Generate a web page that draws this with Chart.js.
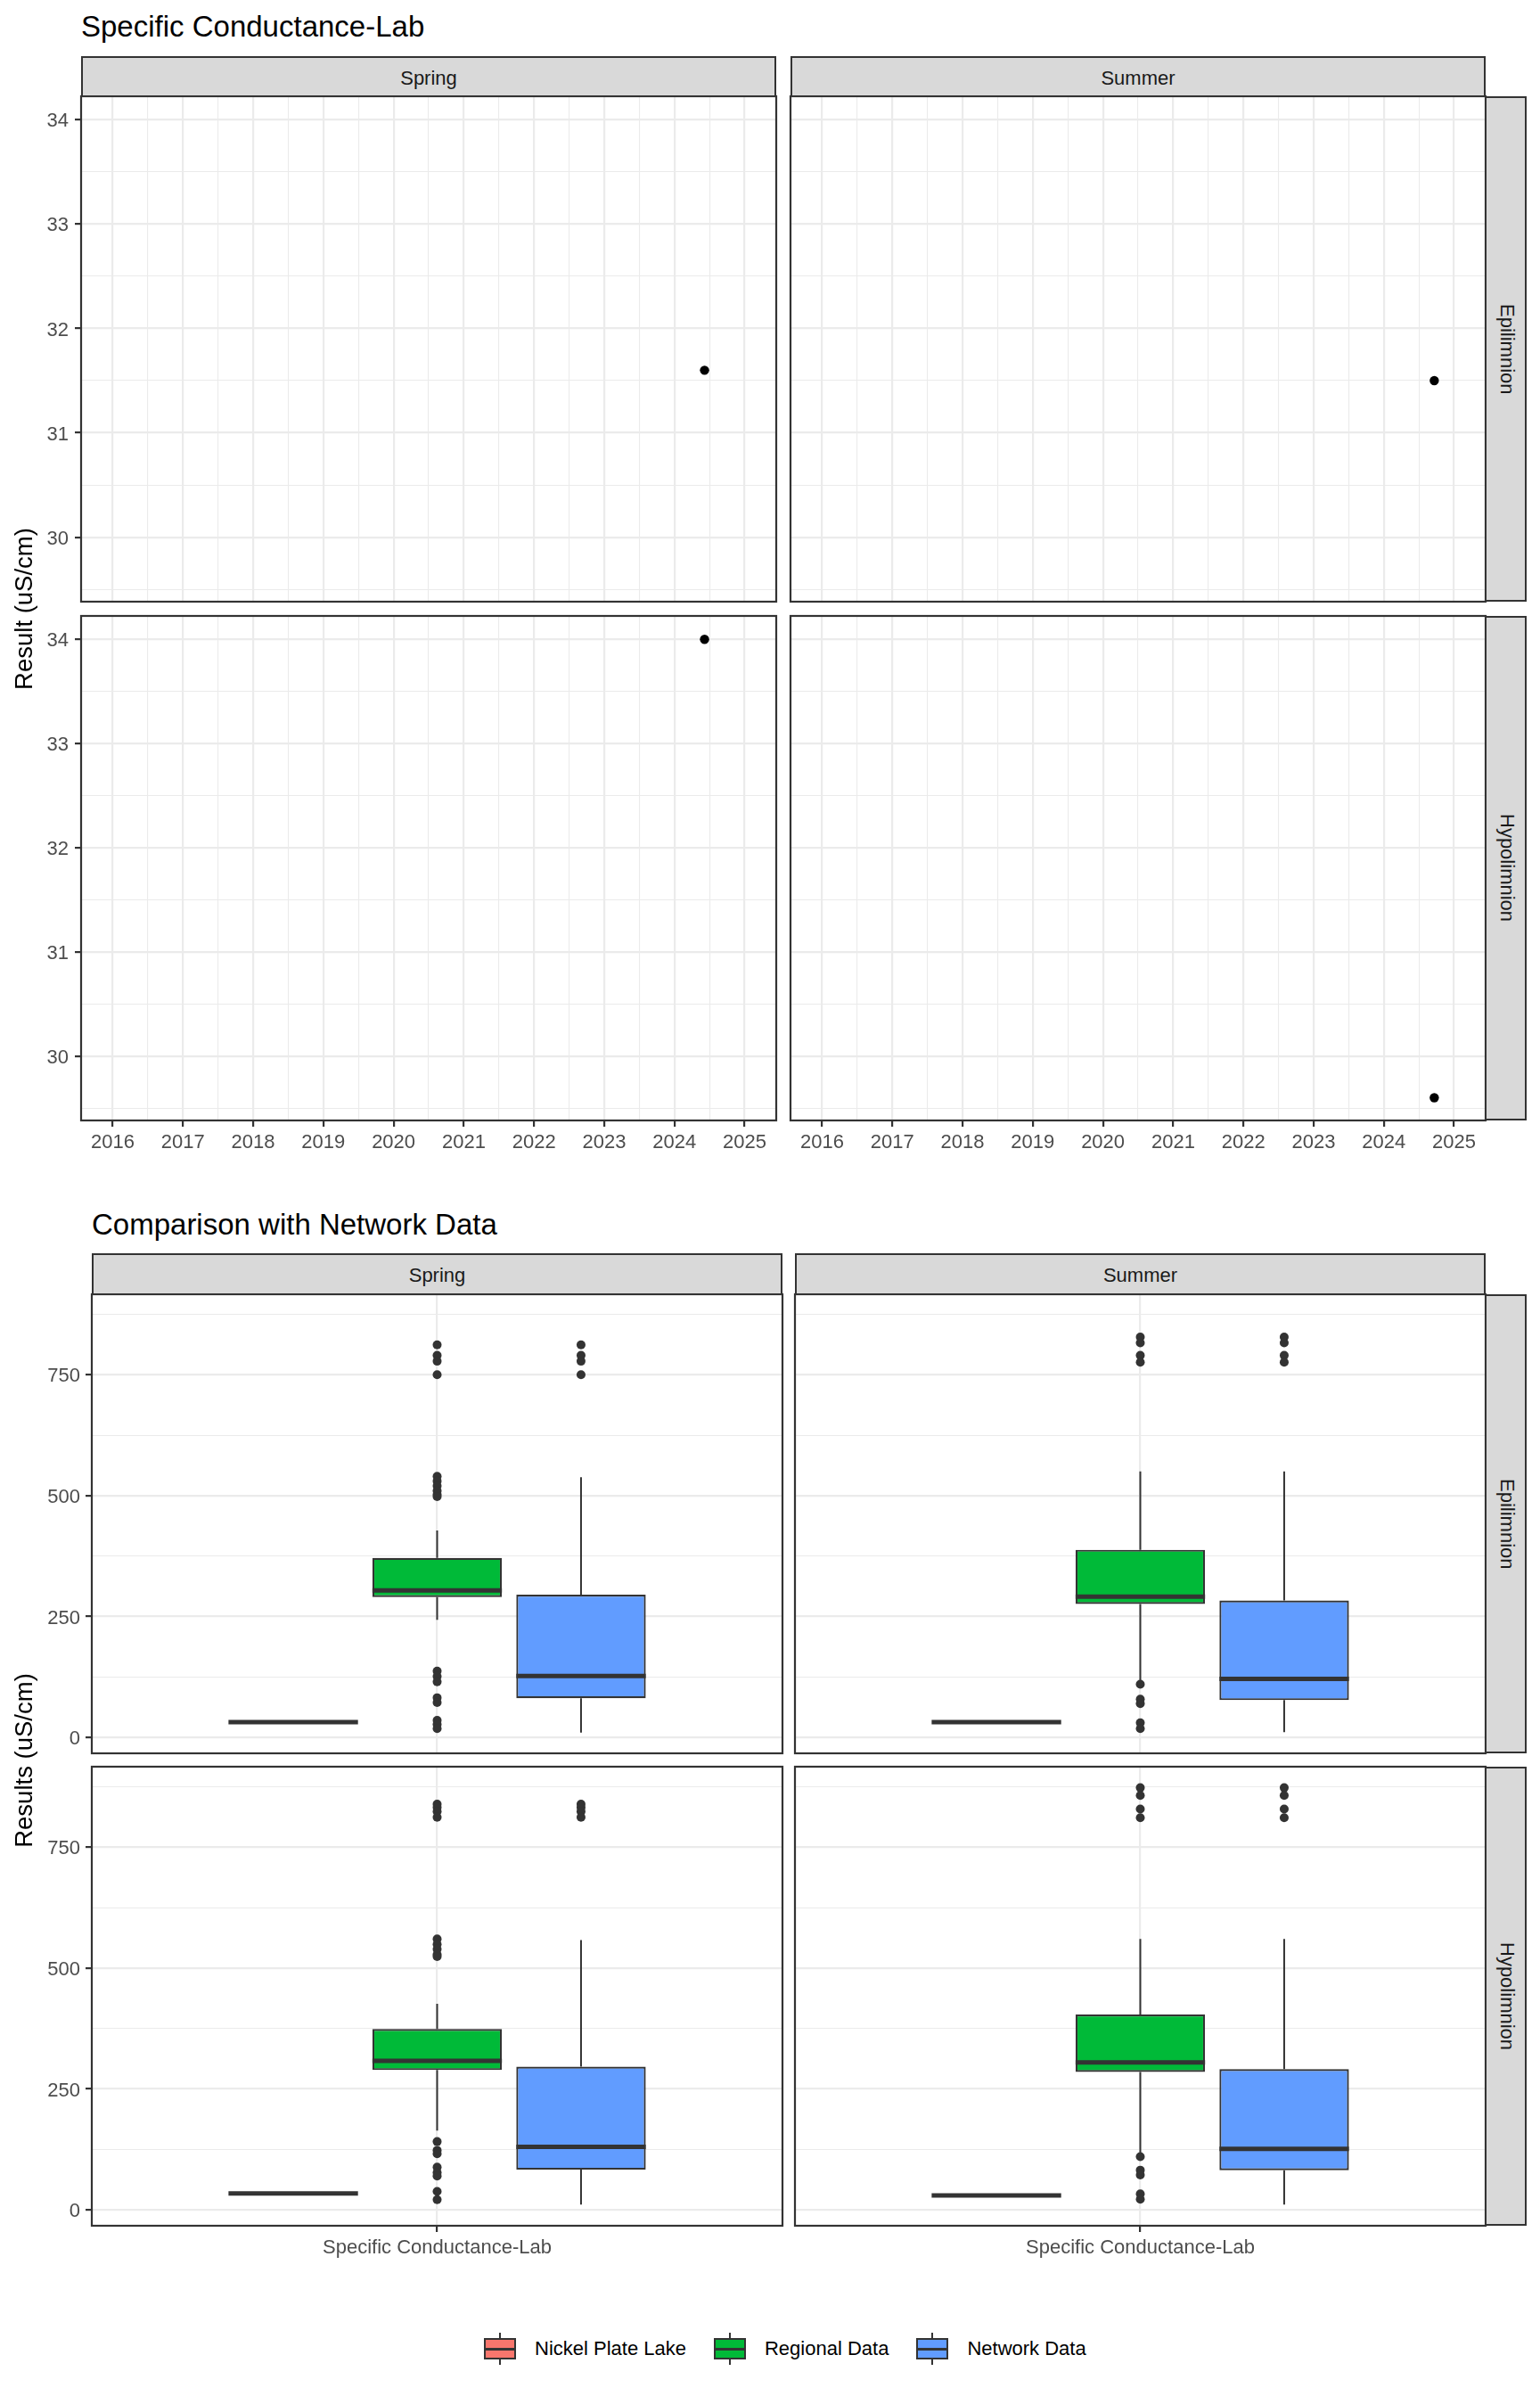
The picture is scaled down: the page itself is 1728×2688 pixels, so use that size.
<!DOCTYPE html>
<html>
<head>
<meta charset="utf-8">
<script src="https://cdn.jsdelivr.net/npm/chart.js@4.4.1/dist/chart.umd.min.js"></script>
<style>
  body { margin: 0; background: #fff; font-family: "Liberation Sans", Arial, sans-serif; }
  #page { position: relative; width: 1728px; height: 2688px; overflow: hidden; }
  #page canvas { position: absolute; }
  .title { position: absolute; font-size: 33px; line-height: 33px; color: #000; white-space: nowrap; }
  .strip { position: absolute; box-sizing: border-box; background: #D9D9D9; border: 2px solid #333333;
           color: #1A1A1A; font-size: 22px; display: flex; align-items: center; justify-content: center; }
  .strip.top { padding-top: 3px; }
  .strip.side { padding-left: 2px; }
  .strip.side span { writing-mode: vertical-rl; }
  .ytitle { position: absolute; width: 600px; height: 30px; line-height: 30px; font-size: 27.5px;
            text-align: center; color: #000; transform: rotate(-90deg); white-space: nowrap; }
  #legend { position: absolute; left: 543px; top: 2617px; height: 36px; display: flex; align-items: center; }
  .key { position: relative; width: 36px; height: 36px; margin-right: 21px; }
  .key .wh { position: absolute; left: 17px; top: 0; width: 2px; height: 36px; background: #333333; }
  .key .bx { position: absolute; left: 0; top: 6px; width: 36px; height: 24px; box-sizing: border-box; border: 2px solid #333333; }
  .key .md { position: absolute; left: 0; top: 16.5px; width: 36px; height: 3px; background: #333333; }
  .item { display: flex; align-items: center; margin-right: 31px; font-size: 22px; color: #000; }
</style>
</head>
<body>
<div id="page"></div>
<script>
// ---- data: lab results over time ----
const seasons = ["Spring", "Summer"];
const layers = ["Epilimnion", "Hypolimnion"];
// one sample per panel, rows = layers, cols = seasons
const sampleDates = [["2024-06-06", "2024-09-20"], ["2024-06-06", "2024-09-20"]];
const sampleValues = [[31.6, 31.5], [34.0, 29.6]];
const yearTicks = [2016, 2017, 2018, 2019, 2020, 2021, 2022, 2023, 2024, 2025];
const labTicks = [30, 31, 32, 33, 34];
const yearLimits = [2015.55, 2025.45];
const labLimits = [29.382, 34.225];

// ---- data: comparison with network ----
const categories = ["Specific Conductance-Lab"];
const groups = ["Nickel Plate Lake", "Regional Data", "Network Data"];
const groupColors = ["#F8766D", "#00BA38", "#619CFF"];
const resultTicks = [0, 250, 500, 750];
const resultLimits = [-33, 916.5];
// box stats per group: [lower whisker, q1, median, q3, upper whisker]
const springEpiStats = [[31.6, 31.6, 31.6, 31.6, 31.6], [243, 290, 304, 371, 428], [10, 81, 127, 295, 538]];
const summerEpiStats = [[31.5, 31.5, 31.5, 31.5, 31.5], [118, 276, 291, 388, 550], [11, 77, 121, 283, 550]];
const springHypoStats = [[34.0, 34.0, 34.0, 34.0, 34.0], [164, 289, 308, 374, 426], [11, 83, 130, 296, 558]];
const summerHypoStats = [[29.6, 29.6, 29.6, 29.6, 29.6], [118, 285, 305, 404, 560], [11, 82, 126, 291, 560]];
const springEpiOutliers = [[], [812, 790, 778, 750, 540, 530, 520, 510, 502, 498, 137, 126, 115, 82, 72, 35, 27, 18], [812, 790, 778, 750]];
const summerEpiOutliers = [[], [828, 816, 790, 776, 110, 79, 70, 30, 18], [828, 816, 790, 776]];
const springHypoOutliers = [[], [839, 832, 824, 812, 560, 549, 539, 528, 524, 141, 123, 116, 88, 77, 70, 38, 21], [839, 832, 824, 812]];
const summerHypoOutliers = [[], [873, 857, 829, 811, 110, 82, 72, 33, 22], [873, 857, 829, 811]];

const boxStats = [[springEpiStats, summerEpiStats], [springHypoStats, summerHypoStats]];
const boxOutliers = [[springEpiOutliers, summerEpiOutliers], [springHypoOutliers, summerHypoOutliers]];

// ---- layout ----
const FONT = '"Liberation Sans", Arial, sans-serif';
const TS_COLS = [{ left: 91, width: 780 }, { left: 887, width: 780 }];
const TS_ROWS = [{ top: 108, height: 567 }, { top: 691, height: 566 }];
const BX_COLS = [{ left: 103, width: 775 }, { left: 892, width: 775 }];
const BX_ROWS = [{ top: 1452, height: 515 }, { top: 1982, height: 515 }];
const PAD = 3, AXIS_W = 80, AXIS_H = 50;
const DODGE = [-0.25, 0, 0.25];

const page = document.getElementById("page");

function toYear(d) {
  const t = new Date(d + "T00:00:00Z");
  const y = t.getUTCFullYear();
  const start = Date.UTC(y, 0, 1), end = Date.UTC(y + 1, 0, 1);
  return y + (t - start) / (end - start);
}

function midpoints(arr) {
  const out = [];
  for (let i = 0; i < arr.length - 1; i++) out.push((arr[i] + arr[i + 1]) / 2);
  return out;
}

function el(cls, style, text) {
  const d = document.createElement("div");
  d.className = cls;
  Object.assign(d.style, style);
  if (text !== undefined) d.innerHTML = text;
  page.appendChild(d);
  return d;
}

function makeCanvas(col, row, cols, rows) {
  const c = document.createElement("canvas");
  const axW = col === 0 ? AXIS_W : 0;
  const axH = row === 1 ? AXIS_H : 0;
  const w = cols[col].width + 2 * PAD + axW;
  const h = rows[row].height + 2 * PAD + axH;
  c.width = w; c.height = h;
  c.style.left = (cols[col].left - PAD - axW) + "px";
  c.style.top = (rows[row].top - PAD) + "px";
  c.style.width = w + "px"; c.style.height = h + "px";
  page.appendChild(c);
  return c;
}

function axis(o) {
  const isMajor = v => o.major.includes(v);
  return {
    type: "linear", min: o.min, max: o.max, bounds: "data", offset: false,
    afterBuildTicks: s => { s.ticks = o.ticks.map(v => ({ value: v })); },
    afterFit: s => {
      if (o.horizontal) s.height = o.size; else s.width = o.size;
      // facets share fixed panel sizes: no label overhang padding
      s.paddingTop = s.paddingBottom = s.paddingLeft = s.paddingRight = 0;
    },
    border: { display: false },
    grid: {
      offset: false, drawTicks: o.show, tickLength: 7, color: "#EBEBEB",
      lineWidth: c => (c.tick && isMajor(c.tick.value)) ? 2.2 : 1.1,
      tickColor: c => (c.tick && isMajor(c.tick.value)) ? "#333333" : "rgba(0,0,0,0)",
      tickWidth: 2.2
    },
    ticks: {
      display: o.show, autoSkip: false, maxRotation: 0, minRotation: 0,
      padding: o.padding, labelOffset: o.horizontal ? 0 : 2,
      color: "#4D4D4D", font: { family: FONT, size: 22 },
      callback: v => isMajor(v) ? o.label(v) : ""
    }
  };
}

const panelFrame = {
  id: "panelFrame",
  afterDraw(chart) {
    const { ctx, chartArea: a } = chart;
    ctx.save();
    ctx.strokeStyle = "#333333";
    ctx.lineWidth = 2.2;
    ctx.strokeRect(a.left, a.top, a.right - a.left, a.bottom - a.top);
    ctx.restore();
  }
};

const boxWhiskers = {
  id: "boxWhiskers",
  afterDatasetsDraw(chart) {
    const ctx = chart.ctx, ys = chart.scales.y;
    chart.data.datasets.forEach((ds, di) => {
      if (!ds.boxStats) return;
      chart.getDatasetMeta(di).data.forEach((bar, i) => {
        const [lo, q1, med, q3, hi] = ds.boxStats[i];
        const { x, width } = bar.getProps(["x", "width"], true);
        ctx.save();
        ctx.strokeStyle = "#333333";
        ctx.lineWidth = 2;
        ctx.beginPath();
        ctx.moveTo(x, ys.getPixelForValue(q3)); ctx.lineTo(x, ys.getPixelForValue(hi));
        ctx.moveTo(x, ys.getPixelForValue(q1)); ctx.lineTo(x, ys.getPixelForValue(lo));
        ctx.stroke();
        const my = ys.getPixelForValue(med);
        ctx.lineWidth = 5;
        ctx.beginPath();
        ctx.moveTo(x - width / 2, my); ctx.lineTo(x + width / 2, my);
        ctx.stroke();
        ctx.restore();
      });
    });
  }
};

const baseOptions = {
  responsive: false, maintainAspectRatio: false, animation: false,
  layout: { padding: PAD, autoPadding: false },
  plugins: { legend: { display: false }, tooltip: { enabled: false } }
};

// ---- chart 1: Specific Conductance-Lab over time ----
el("title", { left: "91px", top: "13px" }, "Specific Conductance-Lab");
const yearMinor = midpoints(yearTicks);
const labMinor = [29.5].concat(midpoints(labTicks));
for (let r = 0; r < 2; r++) {
  for (let c = 0; c < 2; c++) {
    const canvas = makeCanvas(c, r, TS_COLS, TS_ROWS);
    new Chart(canvas, {
      type: "scatter",
      data: {
        datasets: [{
          data: [{ x: toYear(sampleDates[r][c]), y: sampleValues[r][c] }],
          backgroundColor: "#000000", borderWidth: 0, pointRadius: 5.2
        }]
      },
      options: Object.assign({}, baseOptions, {
        scales: {
          x: axis({ horizontal: true, min: yearLimits[0], max: yearLimits[1],
                    ticks: yearTicks.concat(yearMinor).sort((a, b) => a - b), major: yearTicks,
                    show: r === 1, size: r === 1 ? AXIS_H : 0, padding: 5, label: v => String(v) }),
          y: axis({ horizontal: false, min: labLimits[0], max: labLimits[1],
                    ticks: labMinor.concat(labTicks).sort((a, b) => a - b), major: labTicks,
                    show: c === 0, size: c === 0 ? AXIS_W : 0, padding: 7, label: v => String(v) })
        }
      }),
      plugins: [panelFrame]
    });
  }
}
TS_COLS.forEach((col, c) => {
  el("strip top", { left: col.left + "px", top: "63px", width: col.width + "px", height: (TS_ROWS[0].top - 63 + 1) + "px" }, seasons[c]);
});
TS_ROWS.forEach((row, r) => {
  el("strip side", { left: (TS_COLS[1].left + TS_COLS[1].width - 1) + "px", top: row.top + "px", width: "47px", height: row.height + "px" },
     "<span>" + layers[r] + "</span>");
});
el("ytitle", { left: (27 - 300) + "px", top: ((TS_ROWS[0].top + TS_ROWS[1].top + TS_ROWS[1].height) / 2 - 15) + "px" }, "Result (uS/cm)");

// ---- chart 2: Comparison with Network Data ----
el("title", { left: "103px", top: "1357px" }, "Comparison with Network Data");
const resultMinor = midpoints(resultTicks).concat([875]);
for (let r = 0; r < 2; r++) {
  for (let c = 0; c < 2; c++) {
    const canvas = makeCanvas(c, r, BX_COLS, BX_ROWS);
    const stats = boxStats[r][c];
    const outliers = boxOutliers[r][c];
    const outlierPoints = [];
    outliers.forEach((vals, g) => vals.forEach(v => outlierPoints.push({ x: 1 + DODGE[g], y: v })));
    new Chart(canvas, {
      type: "bar",
      data: {
        datasets: [
          {
            type: "bar",
            data: stats.map((s, g) => ({ x: 1 + DODGE[g], y: [s[1], s[3]] })),
            boxStats: stats,
            backgroundColor: groupColors, borderColor: "#333333", borderWidth: 2.2,
            borderSkipped: false, barPercentage: 0.9, categoryPercentage: 1
          },
          {
            type: "scatter",
            data: outlierPoints,
            backgroundColor: "#333333", borderWidth: 0, pointRadius: 5
          }
        ]
      },
      options: Object.assign({}, baseOptions, {
        scales: {
          x: axis({ horizontal: true, min: 0.4, max: 1.6, ticks: [1], major: [1],
                    show: r === 1, size: r === 1 ? AXIS_H : 0, padding: 5, label: v => categories[v - 1] }),
          y: axis({ horizontal: false, min: resultLimits[0], max: resultLimits[1],
                    ticks: resultMinor.concat(resultTicks).sort((a, b) => a - b), major: resultTicks,
                    show: c === 0, size: c === 0 ? AXIS_W : 0, padding: 6, label: v => String(v) })
        }
      }),
      plugins: [boxWhiskers, panelFrame]
    });
  }
}
BX_COLS.forEach((col, c) => {
  el("strip top", { left: col.left + "px", top: "1406px", width: col.width + "px", height: (BX_ROWS[0].top - 1406 + 1) + "px" }, seasons[c]);
});
BX_ROWS.forEach((row, r) => {
  el("strip side", { left: (BX_COLS[1].left + BX_COLS[1].width - 1) + "px", top: row.top + "px", width: "47px", height: row.height + "px" },
     "<span>" + layers[r] + "</span>");
});
el("ytitle", { left: (27 - 300) + "px", top: ((BX_ROWS[0].top + BX_ROWS[1].top + BX_ROWS[1].height) / 2 - 15) + "px" }, "Results (uS/cm)");

// legend
const legend = el("", {}, "");
legend.id = "legend";
groups.forEach((g, i) => {
  const item = document.createElement("div");
  item.className = "item";
  item.innerHTML = '<div class="key"><div class="wh"></div><div class="bx" style="background:' + groupColors[i] +
                   '"></div><div class="md"></div></div><span>' + g + "</span>";
  legend.appendChild(item);
});
</script>
</body>
</html>
